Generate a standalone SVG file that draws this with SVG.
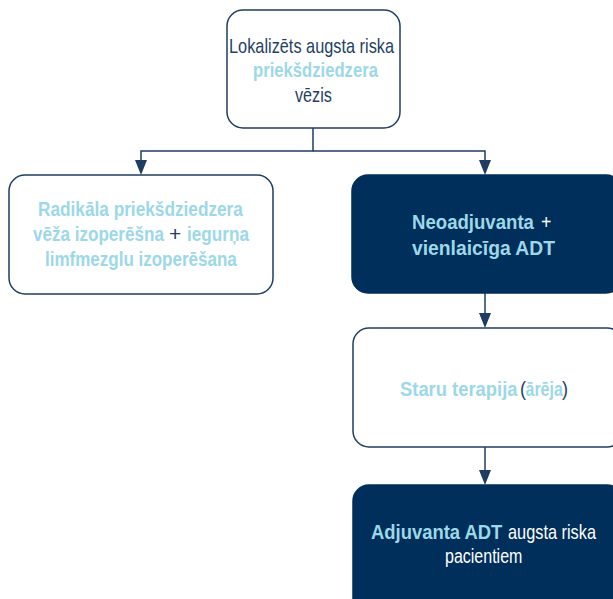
<svg xmlns="http://www.w3.org/2000/svg" width="613" height="599" viewBox="0 0 613 599">
<defs>
<style>
text{font-family:"Liberation Sans",Arial,sans-serif;font-size:20px;text-anchor:start}
.w{fill:#ffffff;stroke:#1f3d63;stroke-width:1.5}
.d{fill:#002f5b;stroke:#002f5b;stroke-width:1.5}
.b{font-weight:bold}
.lg{font-size:21px}
.lb{fill:#9dd8e8}
.nv{fill:#253f66}
.wt{fill:#ffffff}
.c{fill:none;stroke:#1f3d63;stroke-width:1.5}
.ah{fill:#1f3d63}
</style>
</defs>
<g id="connectors">
<path class="c" d="M313,128 V151 H141 V162"/>
<path class="c" d="M313,151 H485 V162"/>
<path class="c" d="M485,293 V315"/>
<path class="c" d="M485,447 V472"/>
<path class="ah" d="M135,160 L147,160 L141,175 Z"/>
<path class="ah" d="M479,160 L491,160 L485,175 Z"/>
<path class="ah" d="M479,313 L491,313 L485,328 Z"/>
<path class="ah" d="M479,470 L491,470 L485,485 Z"/>
</g>
<g id="n1">
<rect class="w" x="227" y="10" width="173" height="118" rx="16"/>
<text transform="translate(229,53) scale(0.816,1)" class="nv">Lokalizēts augsta riska</text>
<text transform="translate(253,77) scale(0.833,1)" class="b lb">priekšdziedzera</text>
<text transform="translate(295,102) scale(0.81,1)" class="nv">vēzis</text>
</g>
<g id="n2">
<rect class="w" x="9" y="175" width="264" height="119" rx="16"/>
<text transform="translate(38,216) scale(0.862,1)" class="b lb">Radikāla priekšdziedzera</text>
<text transform="translate(33,241) scale(0.854,1)" class="b lb">vēža izoperēšna</text>
<text transform="translate(169,241) scale(1.05,1)" class="nv">+</text>
<text transform="translate(187,241) scale(0.858,1)" class="b lb">iegurņa</text>
<text transform="translate(45,266) scale(0.851,1)" class="b lb">limfmezglu izoperēšana</text>
</g>
<g id="n3">
<rect class="d" x="352" y="175" width="270" height="118" rx="16"/>
<text transform="translate(412,229) scale(0.886,1)" class="b lb lg">Neoadjuvanta</text>
<text transform="translate(541,229) scale(0.85,1)" class="wt lg">+</text>
<text transform="translate(412,255) scale(0.92,1)" class="b lb lg">vienlaicīga ADT</text>
</g>
<g id="n4">
<rect class="w" x="353" y="328" width="270" height="119" rx="16"/>
<text transform="translate(400,396) scale(0.92,1)" class="b lb">Staru terapija</text>
<text transform="translate(520,396) scale(0.9,1)" class="nv">(</text>
<text transform="translate(525.5,396) scale(0.8,1)" class="b lb">ārēja</text>
<text transform="translate(562,396) scale(0.9,1)" class="nv">)</text>
</g>
<g id="n5">
<rect class="d" x="353" y="485" width="270" height="130" rx="16"/>
<text transform="translate(371,539) scale(0.877,1)" class="b lb lg">Adjuvanta ADT</text>
<text transform="translate(508,539) scale(0.816,1)" class="wt">augsta riska</text>
<text transform="translate(445,563) scale(0.8,1)" class="wt">pacientiem</text>
</g>
</svg>
